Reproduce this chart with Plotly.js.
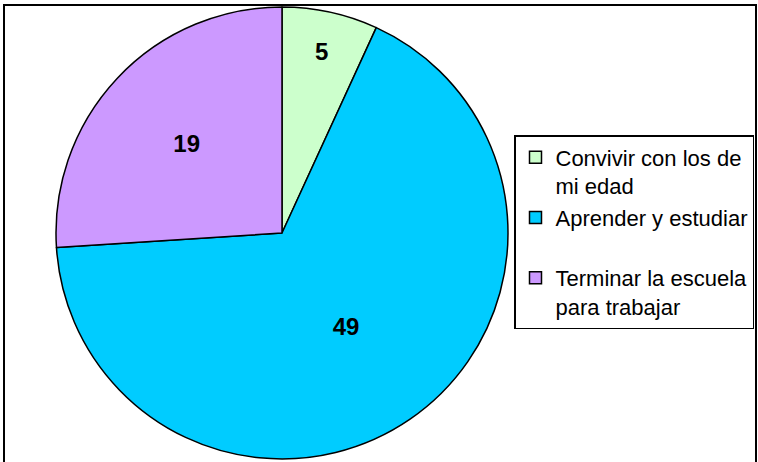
<!DOCTYPE html>
<html>
<head>
<meta charset="utf-8">
<script src="https://cdn.plot.ly/plotly-3.0.1.min.js"></script>
<style>html,body{margin:0;padding:0;background:#fff;}#chart{width:758px;height:462px;}</style>
</head>
<body>
<div id="chart"></div>
<script>
const labels = ["Convivir con los de<br>mi edad", "Aprender y estudiar<br> ", "Terminar la escuela<br>para trabajar"];
const values = [5, 49, 19];
const colors = ["#CCFFCC", "#00CCFF", "#CC99FF"];

const W = 758, H = 462;
const cx = 282, cy = 233, R = 226;

const trace = {
  type: "pie",
  labels: labels,
  values: values,
  sort: false,
  direction: "clockwise",
  rotation: 0,
  marker: {colors: colors, line: {color: "#000", width: 1.5}},
  textinfo: "value",
  textposition: "inside",
  insidetextorientation: "horizontal",
  textfont: {family: "Liberation Sans, Arial, sans-serif", size: 24, color: "#000", weight: "bold"},
  hoverinfo: "label+value",
  domain: {x: [(cx - R) / W, (cx + R) / W], y: [(H - cy - R) / H, (H - cy + R) / H]}
};

const layout = {
  width: W, height: H,
  margin: {l: 0, r: 0, t: 0, b: 0},
  paper_bgcolor: "#fff",
  showlegend: true,
  legend: {
    x: 514 / W, xanchor: "left",
    y: (H - 135) / H, yanchor: "top",
    bordercolor: "#000", borderwidth: 1.5,
    bgcolor: "#fff",
    valign: "top",
    itemwidth: 30,
    font: {family: "Liberation Sans, Arial, sans-serif", size: 22, color: "#000"},
    traceorder: "normal"
  },
  shapes: [{
    type: "rect", xref: "paper", yref: "paper",
    x0: 4 / W, x1: 756 / W, y0: -0.02, y1: (H - 5) / H,
    line: {color: "#000", width: 2}
  }]
};

Plotly.newPlot("chart", [trace], layout, {displayModeBar: false, staticPlot: true});
</script>
</body>
</html>
